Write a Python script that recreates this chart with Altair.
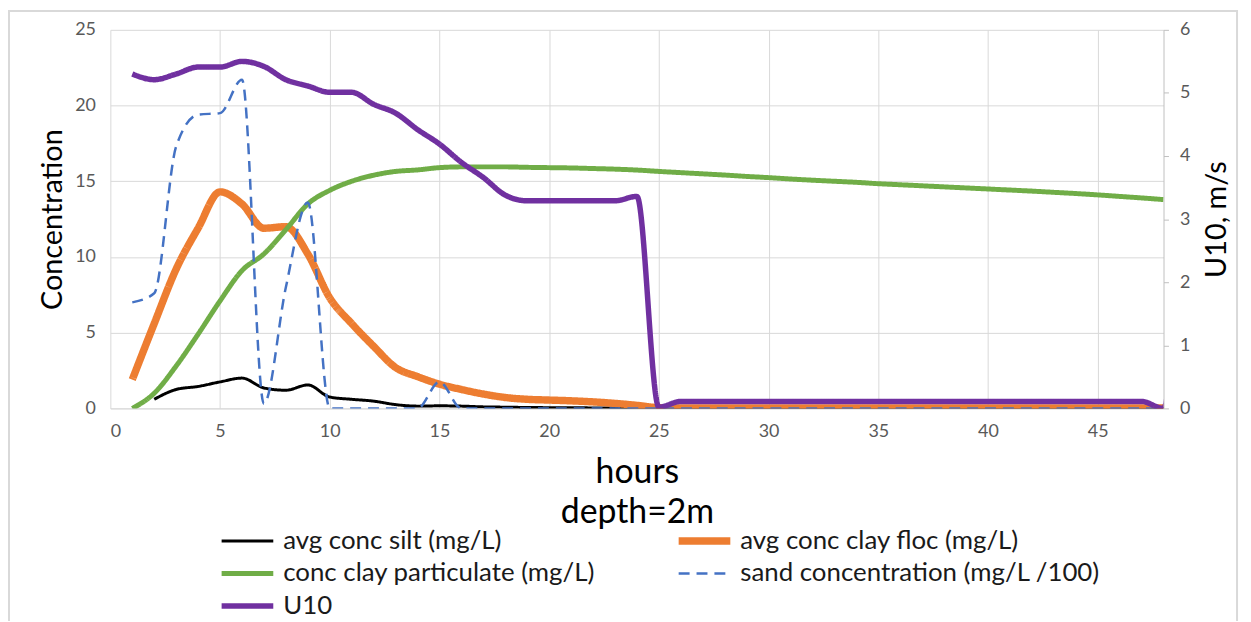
import altair as alt
import pandas as pd

hours = list(range(1, 49))

# legend order (column-major in Vega, gives row-major look of the reference)
series_names = [
    "avg conc silt (mg/L)",
    "conc clay particulate (mg/L)",
    "U10",
    "avg conc clay floc (mg/L)",
    "sand concentration (mg/L /100)",
]
series_colors = ["#000000", "#70AD47", "#7030A0", "#ED7D31", "#4472C4"]
series_widths = [3, 5, 5.5, 7.5, 2.5]
series_dash = [[1, 0], [1, 0], [1, 0], [1, 0], [11, 7]]

silt = [None, 0.6, 1.25, 1.45, 1.75, 2.0, 1.35, 1.2, 1.55, 0.75,
        0.6, 0.48, 0.25, 0.15, 0.17, 0.15, 0.1, 0.08, 0.06, 0.05,
        0.05, 0.03, 0.02, 0.0, 0.0, 0.0, 0.0, 0.0, 0.0, 0.0,
        0.0, 0.0, 0.0, 0.0, 0.0, 0.0, 0.0, 0.0, 0.0, 0.0,
        0.0, 0.0, 0.0, 0.0, 0.0, 0.0, 0.0, 0.0]

clay_floc = [1.9, 5.6, 9.2, 11.9, 14.3, 13.5, 11.9, 12.0, 10.2, 7.3,
             5.6, 4.1, 2.7, 2.1, 1.6, 1.25, 0.95, 0.72, 0.6, 0.55,
             0.5, 0.43, 0.33, 0.2, 0.05, 0.03, 0.03, 0.03, 0.03, 0.03,
             0.03, 0.03, 0.03, 0.03, 0.03, 0.03, 0.03, 0.03, 0.03, 0.03,
             0.03, 0.03, 0.03, 0.03, 0.03, 0.03, 0.03, 0.03]

clay_part = [0.0, 1.0, 2.8, 4.9, 7.1, 9.1, 10.2, 11.8, 13.5, 14.4,
             15.0, 15.4, 15.65, 15.75, 15.9, 15.95, 15.95, 15.95, 15.92, 15.9,
             15.88, 15.84, 15.8, 15.74, 15.65, 15.57, 15.49, 15.41, 15.32, 15.24,
             15.15, 15.07, 15.0, 14.93, 14.84, 14.77, 14.7, 14.63, 14.56, 14.49,
             14.42, 14.35, 14.27, 14.19, 14.1, 14.0, 13.9, 13.79]

sand = [7.0, 7.6, 17.3, 19.4, 19.5, 21.7, 0.3, 8.0, 13.6, 0.0,
        0.0, 0.0, 0.0, 0.0, 1.75, 0.0, 0.0, 0.0, 0.0, 0.0,
        0.0, 0.0, 0.0, 0.0, 0.0, 0.0, 0.0, 0.0, 0.0, 0.0,
        0.0, 0.0, 0.0, 0.0, 0.0, 0.0, 0.0, 0.0, 0.0, 0.0,
        0.0, 0.0, 0.0, 0.0, 0.0, 0.0, 0.0, 0.0]

u10_hours = list(range(1, 50))
u10 = [5.30, 5.21, 5.30, 5.41, 5.41, 5.50, 5.42, 5.21, 5.11, 5.01,
       5.01, 4.82, 4.68, 4.42, 4.19, 3.90, 3.66, 3.38, 3.29, 3.29,
       3.29, 3.29, 3.29, 3.36, 0.02, 0.11, 0.11, 0.11, 0.11, 0.11,
       0.11, 0.11, 0.11, 0.11, 0.11, 0.11, 0.11, 0.11, 0.11, 0.11,
       0.11, 0.11, 0.11, 0.11, 0.11, 0.11, 0.11, 0.0, 5.0]

x_ticks = [0, 5, 10, 15, 20, 25, 30, 35, 40, 45]
left_ticks = [0, 5, 10, 15, 20, 25]
right_ticks = [0, 1, 2, 3, 4, 5, 6]

# drawing order: silt, floc, particulate, sand
conc_series = [
    ("avg conc silt (mg/L)", silt),
    ("avg conc clay floc (mg/L)", clay_floc),
    ("conc clay particulate (mg/L)", clay_part),
    ("sand concentration (mg/L /100)", sand),
]
rows = []
for order, (name, vals) in enumerate(conc_series):
    for h, v in zip(hours, vals):
        if v is not None:
            rows.append({"hour": h, "value": v, "series": name, "ord": order})
conc_df = pd.DataFrame(rows)
u10_df = pd.DataFrame({"hour": u10_hours, "value": u10, "series": "U10"})

FONT = "Lato"

legend = alt.Legend(
    orient="none", legendX=108, legendY=501, columns=2, columnPadding=80,
    rowPadding=5.7, symbolType="stroke", symbolSize=2704, clipHeight=27,
    labelFontSize=26, labelFont=FONT, labelColor="#1a1a1a", labelLimit=0,
    labelOffset=6, title=None,
)

color = alt.Color("series:N", scale=alt.Scale(domain=series_names, range=series_colors), legend=legend)
dash = alt.StrokeDash("series:N", scale=alt.Scale(domain=series_names, range=series_dash), legend=legend)
width = alt.StrokeWidth("series:N", scale=alt.Scale(type="ordinal", domain=series_names, range=series_widths), legend=legend)

xenc = alt.X(
    "hour:Q",
    scale=alt.Scale(domain=[0, 48], nice=False, zero=False),
    axis=alt.Axis(
        values=x_ticks, grid=True, gridColor="#d9d9d9", ticks=False, tickSize=0,
        domainColor="#d9d9d9", labelFont=FONT, labelFontSize=18, labelColor="#595959",
        labelBaseline="alphabetic", labelPadding=28,
        title=["hours", "depth=2m"], titleFont=FONT, titleFontSize=34, titleFontWeight="normal",
        titleColor="#000000", titleBaseline="alphabetic", titleY=75, titleLineHeight=40,
    ),
)

conc = alt.Chart(conc_df).mark_line(interpolate="monotone", clip=True, strokeCap="butt").encode(
    x=xenc,
    y=alt.Y(
        "value:Q",
        scale=alt.Scale(domain=[0, 25], nice=False),
        axis=alt.Axis(
            orient="left", values=left_ticks, grid=True, gridColor="#d9d9d9", ticks=False,
            tickSize=0, domain=False, labelFont=FONT, labelFontSize=18, labelColor="#595959",
            labelPadding=15, title="Concentration", titleFont=FONT, titleFontSize=29,
            titleFontWeight="normal", titleColor="#000000", titleAngle=270,
            titleAlign="center", titleBaseline="alphabetic", titleX=-49, titleY=190.5,
        ),
    ),
    color=color, strokeDash=dash, strokeWidth=width,
    order=alt.Order("ord:Q"),
)

wind = alt.Chart(u10_df).mark_line(interpolate="monotone", clip=True).encode(
    x=xenc,
    y=alt.Y(
        "value:Q",
        scale=alt.Scale(domain=[0, 6], nice=False),
        axis=alt.Axis(
            orient="right", values=right_ticks, grid=False, ticks=True, tickSize=5,
            tickColor="#bfbfbf", domainColor="#bfbfbf", labelFont=FONT, labelFontSize=18,
            labelColor="#595959", labelPadding=11, title="U10, m/s", titleFont=FONT,
            titleFontSize=29, titleFontWeight="normal", titleColor="#000000", titleAngle=270,
            titleAlign="center", titleBaseline="alphabetic", titleX=62, titleY=190.5,
        ),
    ),
    color=color, strokeDash=dash, strokeWidth=width,
)

frame = alt.Chart(alt.Data(values=[{}])).mark_rect(
    fill="transparent", stroke="#d9d9d9", strokeWidth=2
).encode(
    x=alt.value(-102), x2=alt.value(1134), y=alt.value(-19), y2=alt.value(640)
)

chart = alt.layer(frame, conc, wind).resolve_scale(
    y="independent", color="shared", strokeDash="shared", strokeWidth="shared"
).properties(
    width=1060, height=381,
    padding={"left": 103, "top": 20, "right": 80, "bottom": 212},
    autosize=alt.AutoSizeParams(type="none"),
    background="white",
).configure_view(stroke=None)

chart.save("out.html", embed_options={"renderer": "svg", "actions": False})
